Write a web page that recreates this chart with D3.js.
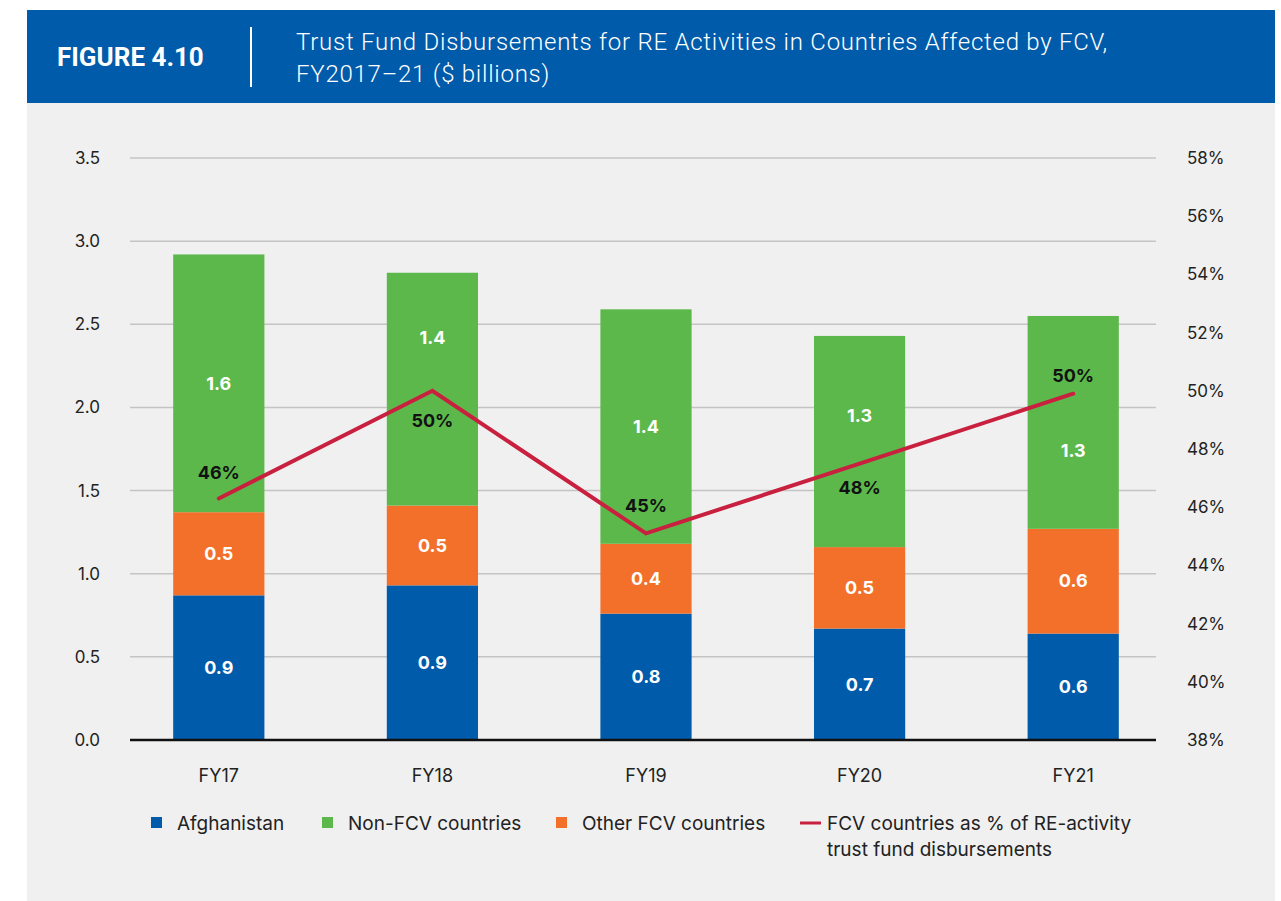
<!DOCTYPE html>
<html>
<head>
<meta charset="utf-8">
<script src="https://cdn.jsdelivr.net/npm/d3@7"></script>
<style>
  body { margin: 0; background: #fff; font-family: Inter, "Noto Sans", sans-serif; }
</style>
</head>
<body>
<div id="chart"></div>
<script>
// chart data
const years = ["FY17", "FY18", "FY19", "FY20", "FY21"];
const afghanistan = [0.87, 0.93, 0.76, 0.67, 0.64];
const otherFcv = [0.50, 0.48, 0.42, 0.49, 0.63];
const nonFcv = [1.55, 1.40, 1.41, 1.27, 1.28];
const fcvShare = [46.3, 50.0, 45.1, 47.5, 49.9];
const afghanLabels = ["0.9", "0.9", "0.8", "0.7", "0.6"];
const otherLabels = ["0.5", "0.5", "0.4", "0.5", "0.6"];
const nonFcvLabels = ["1.6", "1.4", "1.4", "1.3", "1.3"];
const shareLabels = ["46%", "50%", "45%", "48%", "50%"];
const leftTicks = [0, 0.5, 1.0, 1.5, 2.0, 2.5, 3.0, 3.5];
const rightTicks = [38, 40, 42, 44, 46, 48, 50, 52, 54, 56, 58];

const seriesNames = ["Afghanistan", "Non-FCV countries", "Other FCV countries"];
const colors = { afg: "#005BAA", non: "#5CB84A", other: "#F3702A", line: "#C8203E" };

// label nudges (px) so the green values don't collide with the line labels
const nonFcvShift = [0, -51, 0, -26, 28];
const shareShift = [-26, 30, -28, 24, -18];

const W = 1281, H = 901;
const svg = d3.select("#chart").append("svg").attr("width", W).attr("height", H);

// panel + header
svg.append("rect").attr("x", 27).attr("y", 103).attr("width", 1248).attr("height", 798).attr("fill", "#F0F0F0");
svg.append("rect").attr("x", 27).attr("y", 10).attr("width", 1248).attr("height", 93).attr("fill", "#005BAA");
svg.append("text").attr("x", 57).attr("y", 66).attr("fill", "#fff")
  .style("font-family", "Roboto, sans-serif")
  .style("font-size", "26px").style("font-weight", 700).text("FIGURE 4.10");
svg.append("line").attr("x1", 251).attr("x2", 251).attr("y1", 27).attr("y2", 87)
  .attr("stroke", "#fff").attr("stroke-width", 2);
const title = svg.append("text").attr("fill", "#fff")
  .style("font-family", "Roboto, sans-serif").style("font-size", "24px").style("font-weight", 300)
  .style("letter-spacing", "0.75px");
title.append("tspan").attr("x", 296).attr("y", 50).text("Trust Fund Disbursements for RE Activities in Countries Affected by FCV,");
title.append("tspan").attr("x", 296).attr("y", 82).text("FY2017–21 ($ billions)");

// scales
const y = d3.scaleLinear().domain([0, 3.5]).range([740, 158]);
const y2 = d3.scaleLinear().domain([38, 58]).range([740, 158]);
const x = d3.scaleBand().domain(years).range([112, 1180]).paddingInner(0.573).paddingOuter(0.2865);

const gridL = 130, gridR = 1156;

// gridlines
svg.append("g").selectAll("line").data(leftTicks.filter(d => d > 0)).enter().append("line")
  .attr("x1", gridL).attr("x2", gridR).attr("y1", d => y(d)).attr("y2", d => y(d))
  .attr("stroke", "#C4C4C4").attr("stroke-width", 1.5);

// left axis
const leftAxis = d3.axisLeft(y).tickValues(leftTicks).tickFormat(d3.format(".1f")).tickSize(0).tickPadding(0);
const gL = svg.append("g").attr("transform", "translate(100,0)").call(leftAxis);
gL.select(".domain").remove();
gL.selectAll("text").style("font-size", "17px").style("font-family", "Inter, sans-serif").attr("fill", "#222");

// right axis
const rightAxis = d3.axisRight(y2).tickValues(rightTicks).tickFormat(d => d + "%").tickSize(0).tickPadding(0);
const gR = svg.append("g").attr("transform", "translate(1187,0)").call(rightAxis);
gR.select(".domain").remove();
gR.selectAll("text").style("font-size", "17px").style("font-family", "Inter, sans-serif").attr("fill", "#222");

// stacked bars
const rows = years.map((yr, i) => ({ year: yr, afg: afghanistan[i], other: otherFcv[i], non: nonFcv[i], i }));
const stack = d3.stack().keys(["afg", "other", "non"]);
const layers = stack(rows);
const labelSets = { afg: afghanLabels, other: otherLabels, non: nonFcvLabels };

layers.forEach(layer => {
  const g = svg.append("g");
  g.selectAll("rect").data(layer).enter().append("rect")
    .attr("x", d => x(d.data.year)).attr("width", x.bandwidth())
    .attr("y", d => y(d[1])).attr("height", d => y(d[0]) - y(d[1]))
    .attr("fill", colors[layer.key]);
  g.selectAll("text").data(layer).enter().append("text")
    .attr("x", d => x(d.data.year) + x.bandwidth() / 2)
    .attr("y", d => (y(d[0]) + y(d[1])) / 2 + (layer.key === "non" ? nonFcvShift[d.data.i] : 0))
    .attr("dy", "0.35em").attr("text-anchor", "middle")
    .attr("fill", "#fff").style("font-size", "18px").style("font-weight", 700)
    .text(d => labelSets[layer.key][d.data.i]);
});

// baseline
svg.append("line").attr("x1", gridL).attr("x2", gridR).attr("y1", y(0)).attr("y2", y(0))
  .attr("stroke", "#111").attr("stroke-width", 2.5);

// share line
const line = d3.line().x((d, i) => x(years[i]) + x.bandwidth() / 2).y(d => y2(d));
svg.append("path").datum(fcvShare).attr("d", line)
  .attr("fill", "none").attr("stroke", colors.line).attr("stroke-width", 4)
  .attr("stroke-linecap", "round").attr("stroke-linejoin", "miter");
svg.append("g").selectAll("text").data(fcvShare).enter().append("text")
  .attr("x", (d, i) => x(years[i]) + x.bandwidth() / 2)
  .attr("y", (d, i) => y2(d) + shareShift[i])
  .attr("dy", "0.35em").attr("text-anchor", "middle")
  .attr("fill", "#111").style("font-size", "18px").style("font-weight", 700)
  .text((d, i) => shareLabels[i]);

// category labels
svg.append("g").selectAll("text").data(years).enter().append("text")
  .attr("x", d => x(d) + x.bandwidth() / 2).attr("y", 782)
  .attr("text-anchor", "middle").attr("fill", "#222").style("font-size", "18px")
  .text(d => d);

// legend
const leg = svg.append("g").style("font-size", "19px").attr("fill", "#222");
const swatches = [
  { name: seriesNames[0], color: colors.afg, x: 151 },
  { name: seriesNames[1], color: colors.non, x: 322 },
  { name: seriesNames[2], color: colors.other, x: 556 }
];
swatches.forEach(s => {
  leg.append("rect").attr("x", s.x).attr("y", 817).attr("width", 11).attr("height", 11).attr("fill", s.color);
  leg.append("text").attr("x", s.x + 26).attr("y", 830).attr("fill", "#222").text(s.name);
});
leg.append("line").attr("x1", 800).attr("x2", 821).attr("y1", 823).attr("y2", 823)
  .attr("stroke", colors.line).attr("stroke-width", 3);
const lt = leg.append("text").attr("fill", "#222");
lt.append("tspan").attr("x", 827).attr("y", 830).text("FCV countries as % of RE-activity");
lt.append("tspan").attr("x", 827).attr("y", 856).text("trust fund disbursements");
</script>
</body>
</html>
